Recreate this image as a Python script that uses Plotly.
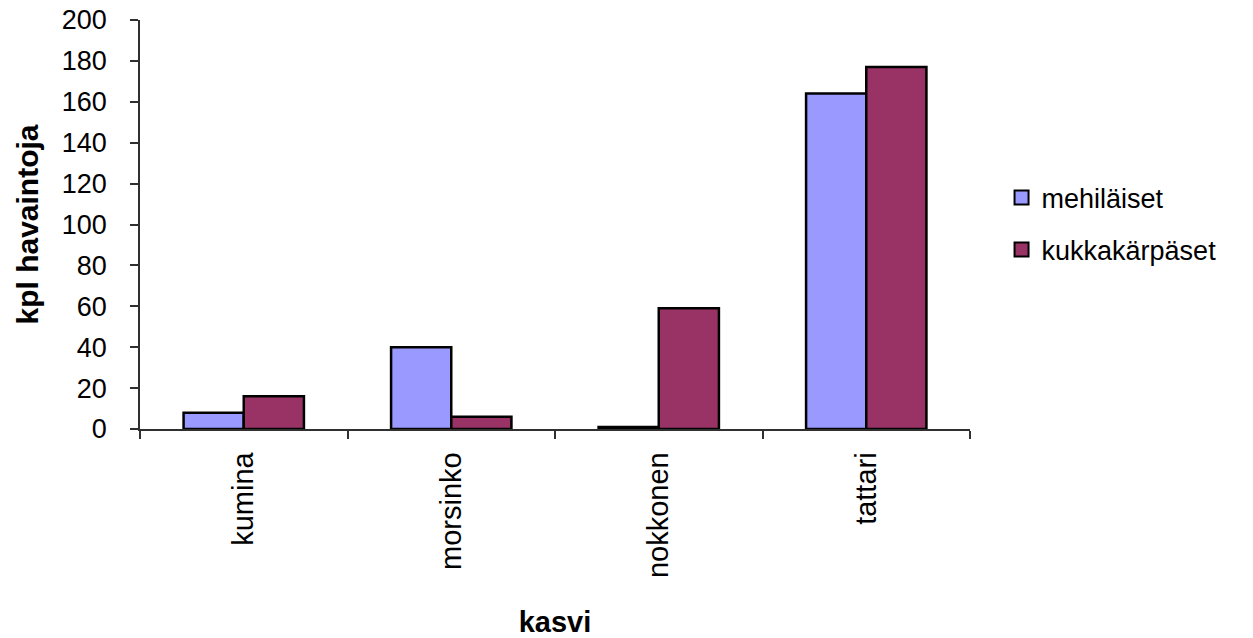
import plotly.graph_objects as go

categories = ["kumina", "morsinko", "nokkonen", "tattari"]
series_names = ["mehiläiset", "kukkakärpäset"]
mehilaiset = [8, 40, 1, 164]
kukkakarpaset = [16, 6, 59, 177]
y_ticks = [0, 20, 40, 60, 80, 100, 120, 140, 160, 180, 200]

colors = ["#9999FF", "#993366"]
font_family = "Liberation Sans, Arial, sans-serif"

fig = go.Figure()
for name, vals, col in zip(series_names, [mehilaiset, kukkakarpaset], colors):
    fig.add_trace(go.Bar(
        x=categories, y=vals, name=name, showlegend=False,
        marker=dict(color=col, line=dict(color="black", width=2.5)),
    ))
# legend entries with larger square symbols
for i, (name, col) in enumerate(zip(series_names, colors)):
    fig.add_trace(go.Scatter(
        x=[None], y=[None], mode="markers", name=name,
        legendgroup=f"g{i}",
        marker=dict(symbol="square", size=14, color=col, line=dict(color="black", width=2)),
    ))

fig.update_layout(
    width=1253, height=638,
    margin=dict(l=140, r=283, t=20, b=209),
    paper_bgcolor="white", plot_bgcolor="white",
    font=dict(family=font_family, size=27, color="black"),
    barmode="group", bargap=0.42, bargroupgap=0,
    showlegend=True,
    legend=dict(
        x=1.038, y=0.625, xanchor="left", yanchor="top",
        traceorder="grouped", tracegroupgap=14,
        itemwidth=30,
        font=dict(size=27), bgcolor="rgba(0,0,0,0)",
    ),
)
fig.update_xaxes(
    type="category", tickangle=-90, automargin=False,
    showline=True, linecolor="#303030", linewidth=1.5,
    ticks="outside", tickson="boundaries", ticklen=8, tickcolor="#303030", tickwidth=1.5,
    showgrid=False, zeroline=False,
    tickfont=dict(size=29), ticklabelstandoff=10,
    title=dict(text="<b>kasvi</b>", font=dict(size=29), standoff=35),
)
fig.update_yaxes(
    range=[0, 200], tickvals=y_ticks, automargin=False,
    showline=True, linecolor="#303030", linewidth=1.5,
    ticks="outside", ticklen=8, tickcolor="#303030", tickwidth=1.5,
    showgrid=False, zeroline=False,
    tickfont=dict(size=27), ticklabelstandoff=18,
    title=dict(text="<b>kpl havaintoja</b>", font=dict(size=30), standoff=14),
)

fig.write_html("out.html")
